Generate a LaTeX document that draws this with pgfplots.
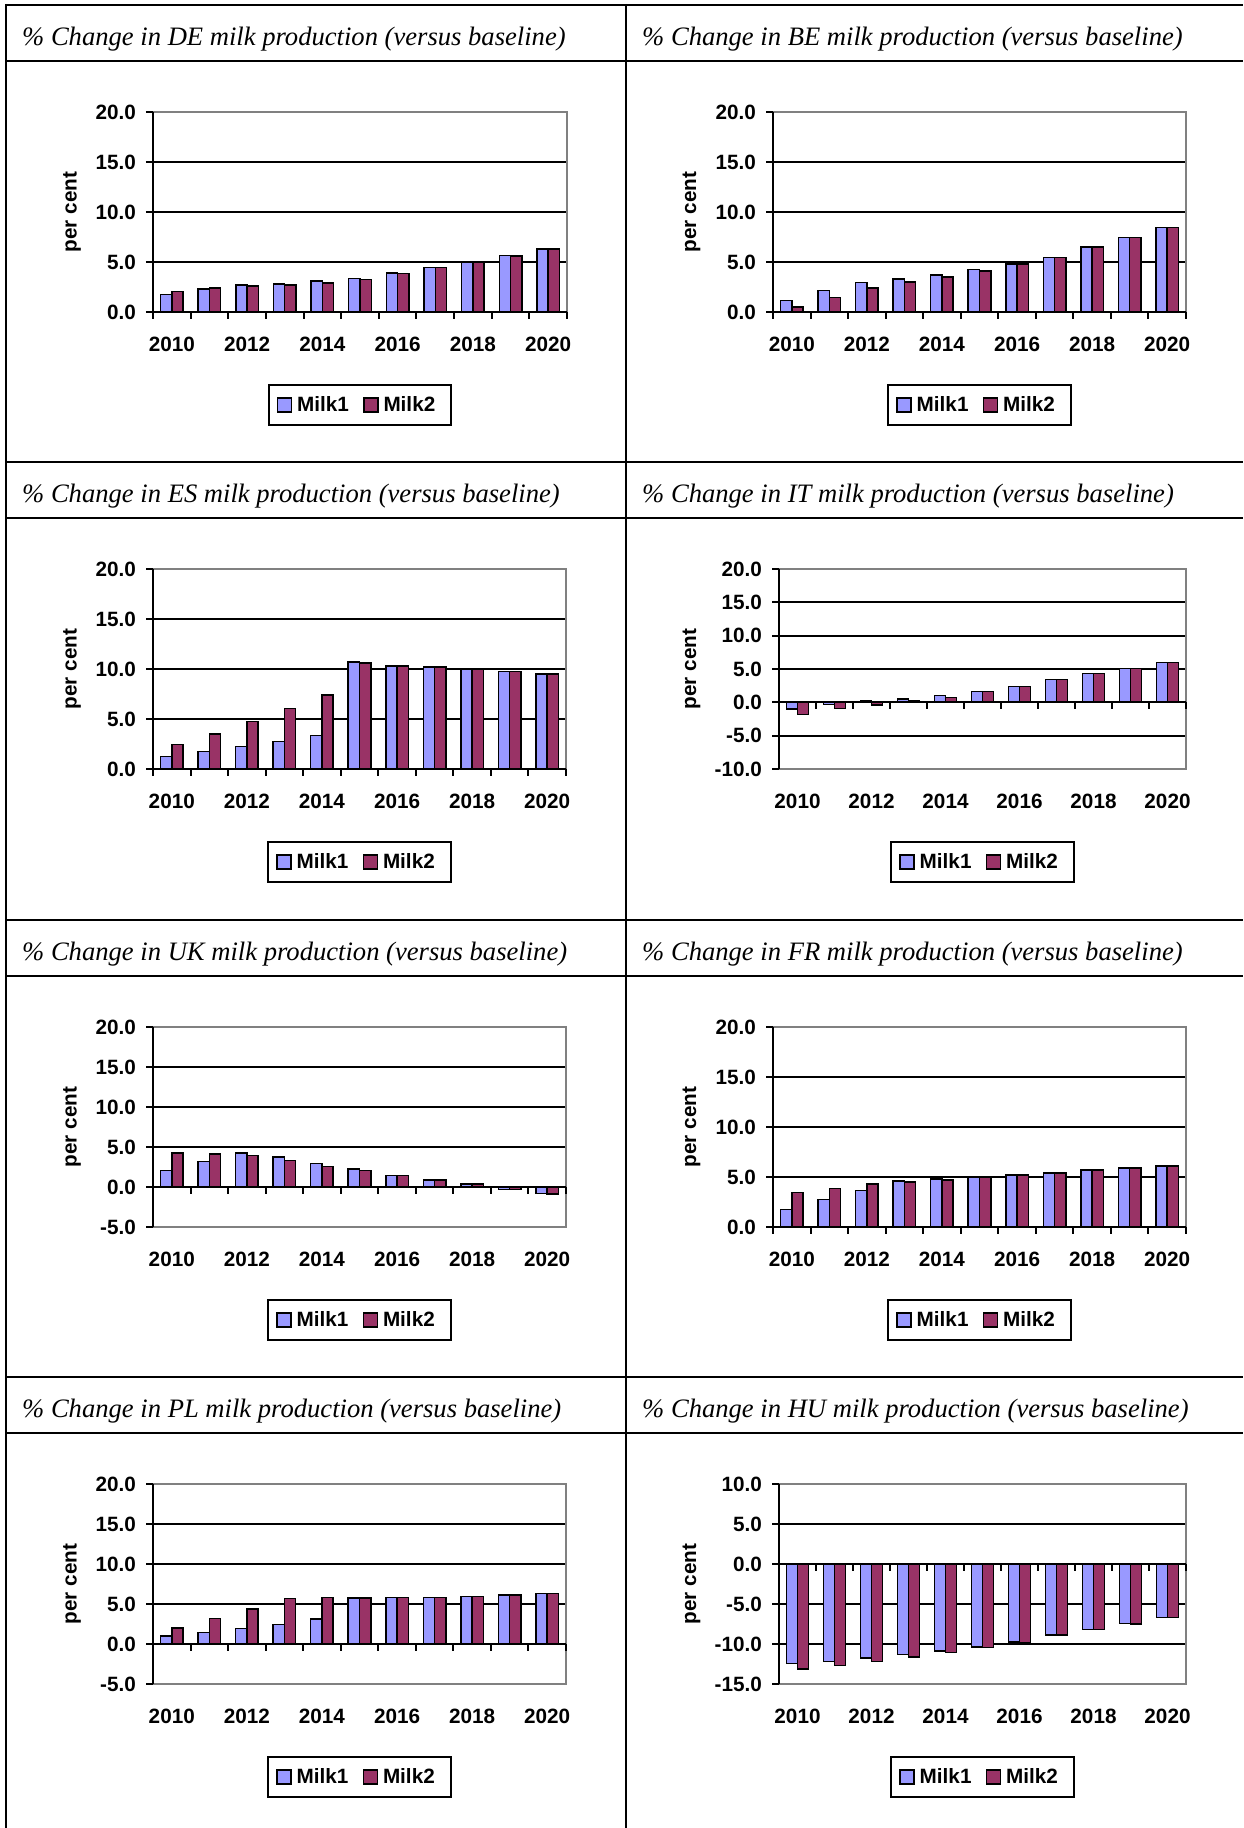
\documentclass[border=0pt]{standalone}
\usepackage{pgfplots}
\pgfplotsset{compat=1.18}
\usepackage{pgfplotstable}
\usepackage{fontspec}
\setmainfont{Liberation Sans}
\newfontfamily\titlefont{Liberation Serif}
\definecolor{milkA}{HTML}{9999FF}
\definecolor{milkB}{HTML}{993366}
\definecolor{framegray}{HTML}{808080}

\pgfplotstableread{
x m1 m2
0 1.74 2.07
1 2.31 2.41
2 2.68 2.61
3 2.78 2.68
4 3.08 2.91
5 3.34 3.24
6 3.91 3.85
7 4.45 4.45
8 5.02 5.02
9 5.65 5.62
10 6.29 6.29
}\deData
\pgfplotstableread{
x m1 m2
0 1.17 0.50
1 2.14 1.47
2 2.94 2.41
3 3.31 3.01
4 3.68 3.51
5 4.25 4.11
6 4.78 4.78
7 5.45 5.45
8 6.49 6.49
9 7.46 7.46
10 8.43 8.43
}\beData
\pgfplotstableread{
x m1 m2
0 1.23 2.43
1 1.73 3.49
2 2.23 4.76
3 2.76 6.06
4 3.36 7.39
5 10.68 10.62
6 10.32 10.32
7 10.18 10.18
8 9.98 9.98
9 9.75 9.75
10 9.52 9.52
}\esData
\pgfplotstableread{
x m1 m2
0 -1.0 -1.85
1 -0.35 -0.95
2 0.3 -0.4
3 0.5 0.25
4 1.0 0.75
5 1.65 1.6
6 2.4 2.4
7 3.39 3.39
8 4.29 4.29
9 5.09 5.09
10 5.99 5.99
}\itData
\pgfplotstableread{
x m1 m2
0 2.09 4.22
1 3.17 4.13
2 4.26 3.92
3 3.76 3.30
4 2.96 2.59
5 2.25 2.05
6 1.42 1.42
7 0.88 0.88
8 0.38 0.38
9 -0.29 -0.29
10 -0.84 -0.88
}\ukData
\pgfplotstableread{
x m1 m2
0 1.77 3.44
1 2.74 3.85
2 3.65 4.31
3 4.58 4.52
4 4.82 4.72
5 4.98 4.98
6 5.18 5.18
7 5.42 5.42
8 5.69 5.69
9 5.92 5.92
10 6.12 6.12
}\frData
\pgfplotstableread{
x m1 m2
0 1.0 2.0
1 1.42 3.17
2 1.96 4.38
3 2.46 5.67
4 3.13 5.79
5 5.75 5.75
6 5.79 5.79
7 5.79 5.79
8 5.96 5.96
9 6.13 6.13
10 6.29 6.29
}\plData
\pgfplotstableread{
x m1 m2
0 -12.42 -13.13
1 -12.17 -12.71
2 -11.75 -12.21
3 -11.33 -11.63
4 -10.88 -11.08
5 -10.38 -10.46
6 -9.75 -9.79
7 -8.88 -8.88
8 -8.17 -8.17
9 -7.46 -7.50
10 -6.71 -6.71
}\huData

\newcommand{\chartfont}{\bfseries\fontsize{20.7pt}{24pt}\selectfont}

\pgfplotsset{
  milk/.style={
    scale only axis, height=200pt,
    ybar=0pt, bar width=0.3, clip=false,
    xmin=-0.5, xmax=10.5,
    xtick={0,2,4,6,8,10},
    xticklabels={2010,2012,2014,2016,2018,2020},
    xtick style={draw=none},
    ytick={-15,-10,-5,0,5,10,15,20},
    ymajorgrids, grid style={black, line width=2pt},
    axis line style={draw=none},
    tick align=outside, major tick length=7pt,
    ytick pos=left,
    ytick style={black, line width=2pt},
    font=\chartfont,
    /pgf/number format/fixed,
    /pgf/number format/fixed zerofill,
    /pgf/number format/precision=1,
    /pgf/number format/assume math mode=true,
    yticklabel style={anchor=east, inner sep=0pt, xshift=-10pt},
    xticklabel style={anchor=north, inner sep=0pt, yshift=-18pt},
    ylabel={per cent},
    legend columns=2,
    legend cell align=left,
    legend style={draw=black, line width=2pt, font=\chartfont,
      inner xsep=8pt, inner ysep=12pt,
      nodes={inner sep=0pt},
      /tikz/every odd column/.append style={column sep=5pt},
      /tikz/every even column/.append style={column sep=14pt}},
    legend image code/.code={\draw[##1,/tikz/.cd,bar shift=0pt] (0pt,-7pt) rectangle (14pt,7pt);},
  },
  milkA/.style={fill=milkA, draw=black, line width=1.5pt},
  milkB/.style={fill=milkB, draw=black, line width=1.5pt},
}

\newcommand{\milkdeco}{%
  \draw[framegray, line width=2pt] (rel axis cs:0,1) -- (rel axis cs:1,1) -- (rel axis cs:1,0) -- (rel axis cs:0,0);
  \draw[black, line width=2pt] (axis cs:-0.5,0) -- (axis cs:10.5,0);
  \pgfplotsinvokeforeach{-0.5,0.5,...,10.5}{\draw[black, line width=2pt] (axis cs:##1,0) -- ++(0pt,-7pt);}
  \draw[black, line width=2.5pt] (rel axis cs:0,0) -- (rel axis cs:0,1);
}
\newcommand{\milklegend}{\legend{Milk1, Milk2\hspace*{8pt}}}

\begin{document}
\begin{tikzpicture}
\useasboundingbox (0pt,0pt) rectangle (1243pt,1828pt);

% ---- table frame
\draw[black, line width=2pt] (6pt,1823pt) -- (1243pt,1823pt);
\foreach \yy in {1767,1366,1310,908,852,451,395} {
  \draw[black, line width=2pt] (6pt,\yy pt) -- (1243pt,\yy pt);
}
\draw[black, line width=2pt] (6pt,1824pt) -- (6pt,0pt);
\draw[black, line width=2pt] (626pt,1824pt) -- (626pt,0pt);

% ---- titles
\tikzset{ttl/.style={anchor=base west, inner sep=0pt, font=\titlefont\itshape\fontsize{26.6pt}{30pt}\selectfont}}
\node[ttl] at (22pt,1782.5pt) {\% Change in DE milk production (versus baseline)};
\node[ttl] at (642pt,1782.5pt) {\% Change in BE milk production (versus baseline)};
\node[ttl] at (22pt,1325.5pt) {\% Change in ES milk production (versus baseline)};
\node[ttl] at (642pt,1325.5pt) {\% Change in IT milk production (versus baseline)};
\node[ttl] at (22pt,867.5pt) {\% Change in UK milk production (versus baseline)};
\node[ttl] at (642pt,867.5pt) {\% Change in FR milk production (versus baseline)};
\node[ttl] at (22pt,410.5pt) {\% Change in PL milk production (versus baseline)};
\node[ttl] at (642pt,410.5pt) {\% Change in HU milk production (versus baseline)};

% ---- DE
\begin{axis}[milk, at={(153pt,1516pt)}, anchor=south west, width=414pt,
  ymin=0, ymax=20,
  ylabel style={at={(axis description cs:-0.1957,0.5)}, anchor=center},
  legend style={at={(axis description cs:0.5,-0.465)}, anchor=center}]
\addplot[milkA] table[x=x, y=m1] {\deData};
\addplot[milkB] table[x=x, y=m2] {\deData};
\milklegend
\milkdeco
\end{axis}

% ---- BE
\begin{axis}[milk, at={(773pt,1516pt)}, anchor=south west, width=413pt,
  ymin=0, ymax=20,
  ylabel style={at={(axis description cs:-0.197,0.5)}, anchor=center},
  legend style={at={(axis description cs:0.5,-0.465)}, anchor=center}]
\addplot[milkA] table[x=x, y=m1] {\beData};
\addplot[milkB] table[x=x, y=m2] {\beData};
\milklegend
\milkdeco
\end{axis}

% ---- ES
\begin{axis}[milk, at={(153pt,1059pt)}, anchor=south west, width=413pt,
  ymin=0, ymax=20,
  ylabel style={at={(axis description cs:-0.196,0.5)}, anchor=center},
  legend style={at={(axis description cs:0.5,-0.465)}, anchor=center}]
\addplot[milkA] table[x=x, y=m1] {\esData};
\addplot[milkB] table[x=x, y=m2] {\esData};
\milklegend
\milkdeco
\end{axis}

% ---- IT
\begin{axis}[milk, at={(779pt,1059pt)}, anchor=south west, width=407pt,
  ymin=-10, ymax=20,
  ylabel style={at={(axis description cs:-0.215,0.5)}, anchor=center},
  legend style={at={(axis description cs:0.5,-0.465)}, anchor=center}]
\addplot[milkA] table[x=x, y=m1] {\itData};
\addplot[milkB] table[x=x, y=m2] {\itData};
\milklegend
\milkdeco
\end{axis}

% ---- UK
\begin{axis}[milk, at={(153pt,601pt)}, anchor=south west, width=413pt,
  ymin=-5, ymax=20,
  ylabel style={at={(axis description cs:-0.196,0.5)}, anchor=center},
  legend style={at={(axis description cs:0.5,-0.465)}, anchor=center}]
\addplot[milkA] table[x=x, y=m1] {\ukData};
\addplot[milkB] table[x=x, y=m2] {\ukData};
\milklegend
\milkdeco
\end{axis}

% ---- FR
\begin{axis}[milk, at={(773pt,601pt)}, anchor=south west, width=413pt,
  ymin=0, ymax=20,
  ylabel style={at={(axis description cs:-0.197,0.5)}, anchor=center},
  legend style={at={(axis description cs:0.5,-0.465)}, anchor=center}]
\addplot[milkA] table[x=x, y=m1] {\frData};
\addplot[milkB] table[x=x, y=m2] {\frData};
\milklegend
\milkdeco
\end{axis}

% ---- PL
\begin{axis}[milk, at={(153pt,144pt)}, anchor=south west, width=413pt,
  ymin=-5, ymax=20,
  ylabel style={at={(axis description cs:-0.196,0.5)}, anchor=center},
  legend style={at={(axis description cs:0.5,-0.465)}, anchor=center}]
\addplot[milkA] table[x=x, y=m1] {\plData};
\addplot[milkB] table[x=x, y=m2] {\plData};
\milklegend
\milkdeco
\end{axis}

% ---- HU
\begin{axis}[milk, at={(779pt,144pt)}, anchor=south west, width=407pt,
  ymin=-15, ymax=10,
  ylabel style={at={(axis description cs:-0.215,0.5)}, anchor=center},
  legend style={at={(axis description cs:0.5,-0.465)}, anchor=center}]
\addplot[milkA] table[x=x, y=m1] {\huData};
\addplot[milkB] table[x=x, y=m2] {\huData};
\milklegend
\milkdeco
\end{axis}

\end{tikzpicture}
\end{document}
